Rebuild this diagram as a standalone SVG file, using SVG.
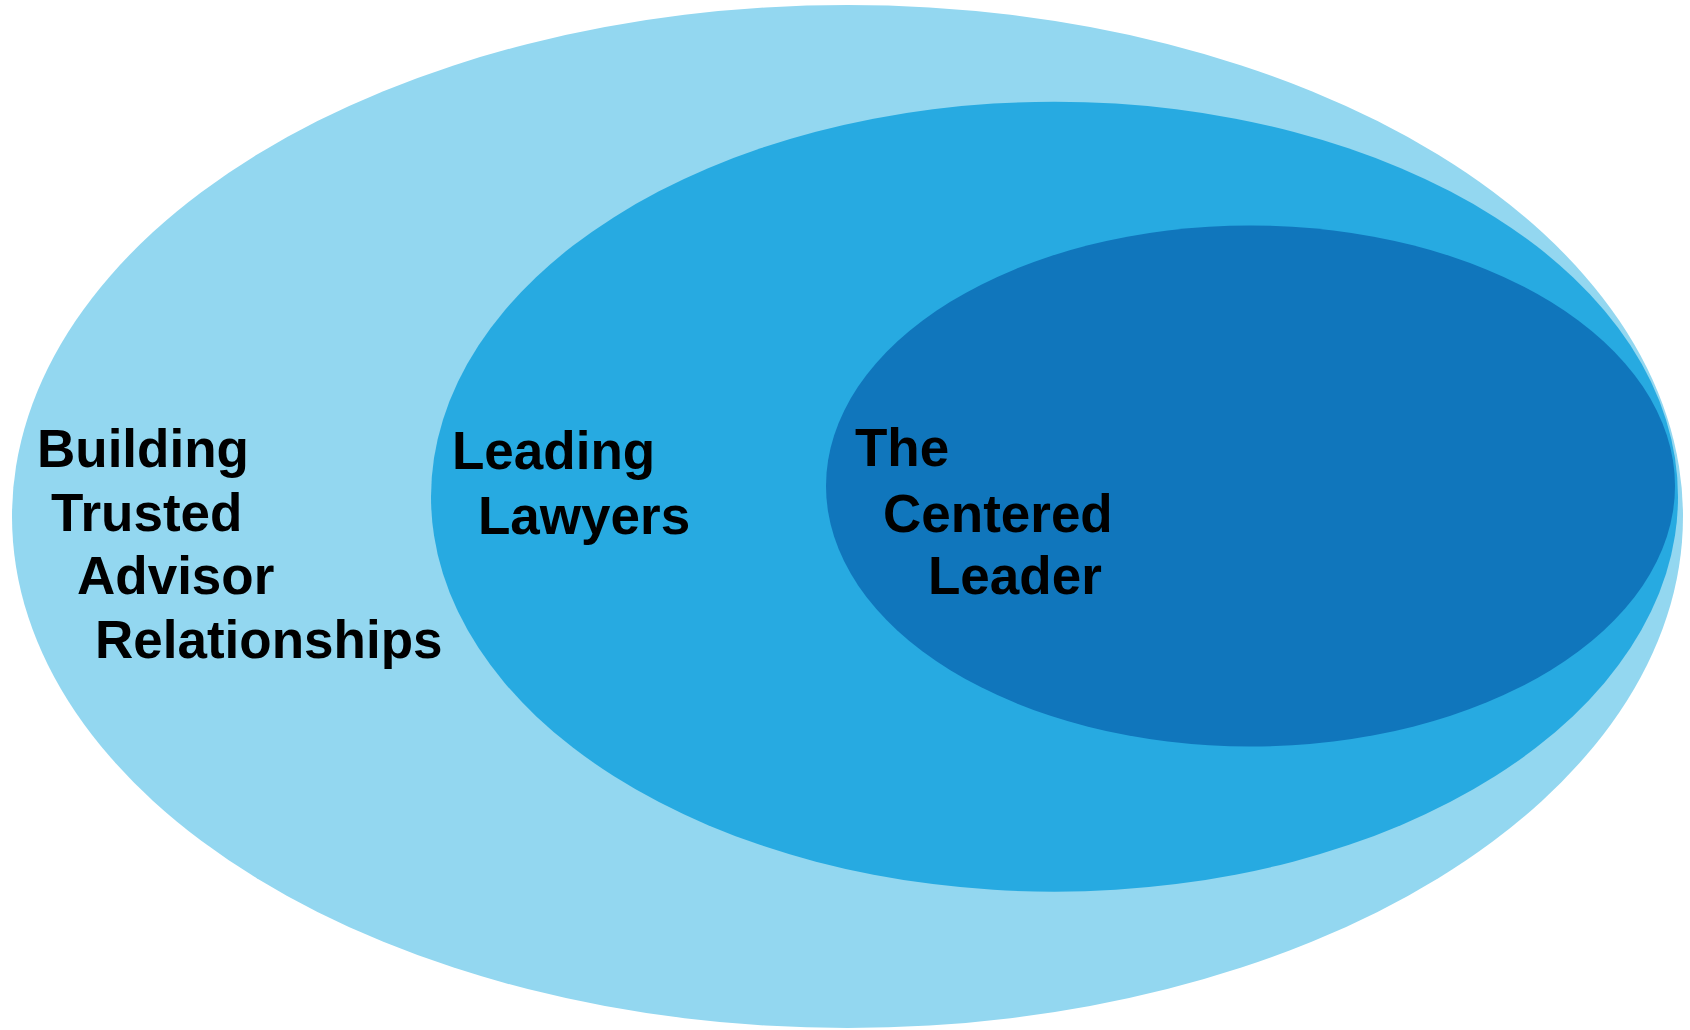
<svg xmlns="http://www.w3.org/2000/svg" width="1690" height="1030" viewBox="0 0 1690 1030">
  <style>
    .label { font-family: "Liberation Sans", Arial, sans-serif; font-weight: bold; font-size: 53px; fill: #000000; }
    .outer { fill: #93D7F0; }
    .middle { fill: #27AAE1; }
    .inner { fill: #1076BC; }
  </style>
  <rect x="0" y="0" width="1690" height="1030" fill="#FFFFFF"/>

  <!-- outermost ring -->
  <g id="trusted-advisor">
    <ellipse class="outer" cx="847.5" cy="516.5" rx="835.5" ry="511.5"/>
    <text class="label" x="37" y="467">Building</text>
    <text class="label" x="51" y="531">Trusted</text>
    <text class="label" x="77" y="594">Advisor</text>
    <text class="label" x="95" y="658">Relationships</text>
  </g>

  <!-- middle ring -->
  <g id="leading-lawyers">
    <ellipse class="middle" cx="1054.5" cy="496.7" rx="623.5" ry="395"/>
    <text class="label" x="452" y="469">Leading</text>
    <text class="label" x="478" y="534">Lawyers</text>
  </g>

  <!-- innermost core -->
  <g id="centered-leader">
    <ellipse class="inner" cx="1250.5" cy="486" rx="424.5" ry="260.5"/>
    <text class="label" x="855" y="466">The</text>
    <text class="label" x="883" y="532">Centered</text>
    <text class="label" x="928" y="594">Leader</text>
  </g>

  <g id="connectors"/>
</svg>
